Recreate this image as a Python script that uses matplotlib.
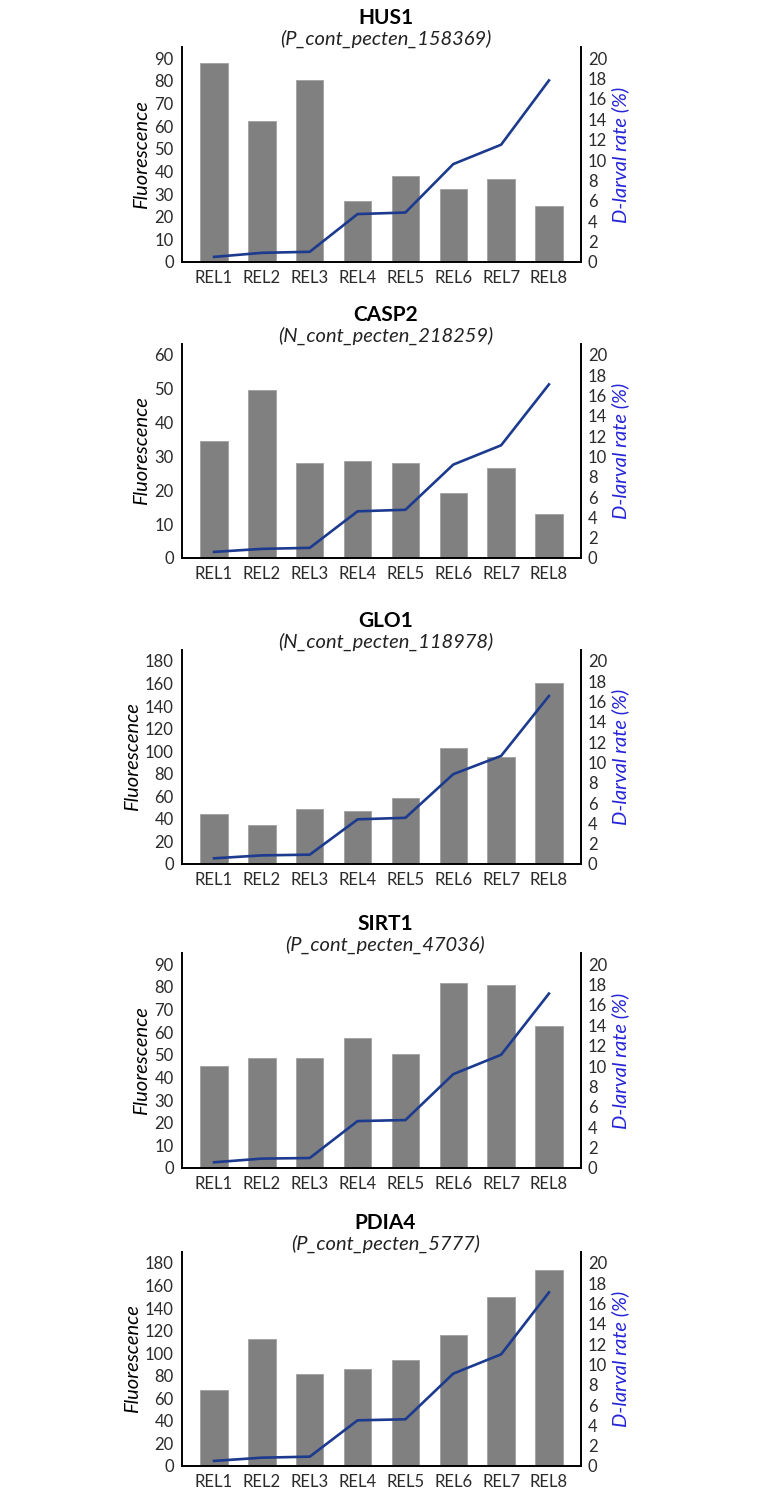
import numpy as np
import matplotlib.pyplot as plt

categories = ["REL1", "REL2", "REL3", "REL4", "REL5", "REL6", "REL7", "REL8"]

genes = ["HUS1", "CASP2", "GLO1", "SIRT1", "PDIA4"]
contigs = ["(P_cont_pecten_158369)", "(N_cont_pecten_218259)",
           "(N_cont_pecten_118978)", "(P_cont_pecten_47036)",
           "(P_cont_pecten_5777)"]

hus1_fluo = [87.8, 62.0, 80.4, 27.0, 37.9, 32.0, 36.7, 24.6]
casp2_fluo = [34.6, 49.5, 28.2, 28.8, 28.2, 19.2, 26.7, 12.9]
glo1_fluo = [44.0, 35.0, 48.7, 47.2, 58.7, 103.0, 95.0, 160.5]
sirt1_fluo = [44.8, 48.5, 48.4, 57.3, 50.5, 81.7, 80.8, 62.6]
pdia4_fluo = [67.3, 113.0, 82.0, 85.6, 94.4, 116.3, 150.0, 174.0]

hus1_rate = [0.5, 0.9, 1.0, 4.7, 4.85, 9.6, 11.5, 17.8]
casp2_rate = [0.6, 0.9, 1.0, 4.6, 4.75, 9.2, 11.1, 17.1]
glo1_rate = [0.56, 0.85, 0.92, 4.4, 4.55, 8.85, 10.65, 16.55]
sirt1_rate = [0.56, 0.92, 0.98, 4.6, 4.7, 9.2, 11.1, 17.1]
pdia4_rate = [0.5, 0.82, 0.92, 4.5, 4.6, 9.1, 11.0, 17.1]

fluo = [hus1_fluo, casp2_fluo, glo1_fluo, sirt1_fluo, pdia4_fluo]
rates = [hus1_rate, casp2_rate, glo1_rate, sirt1_rate, pdia4_rate]
left_max = [90, 60, 180, 90, 180]
left_step = [10, 10, 20, 10, 20]

# pixel rows of each panel (top, bottom)
rows = [(47, 262), (344, 558), (650, 864), (953, 1168), (1252, 1466)]

W, H = 766, 1505
plt.rcParams['font.family'] = ['Lato', 'DejaVu Sans']

fig = plt.figure(figsize=(W / 100, H / 100), dpi=100)
x = np.arange(len(categories))

for i in range(5):
    top, bot = rows[i]
    ax = fig.add_axes([182 / W, 1 - bot / H, (581 - 182) / W, (bot - top) / H])
    ax.bar(x, fluo[i], width=0.57, color="#808080", edgecolor="#a0a0a0", linewidth=0.6, zorder=2)
    ax.set_xlim(-0.67, 7.67)
    ax.set_ylim(0, left_max[i] * 1.054)
    ax.set_yticks(np.arange(0, left_max[i] + 1, left_step[i]))
    ax.set_xticks(x)
    ax.set_xticklabels(categories)
    ax.tick_params(axis='both', length=0, labelsize=12, colors="#2a2a2a")
    ax.tick_params(axis='x', pad=6)
    ax.tick_params(axis='y', pad=6)
    for s in ["left", "bottom"]:
        ax.spines[s].set_linewidth(1.4)
    ax.spines["top"].set_visible(False)
    ax.spines["right"].set_visible(False)
    ax.set_ylabel("Fluorescence", fontsize=14.5, style="italic", labelpad=3)

    ax2 = ax.twinx()
    ax2.plot(x, rates[i], color="#1c3a8e", linewidth=1.9, zorder=3)
    ax2.set_ylim(0, 20 * 1.054)
    ax2.set_yticks(np.arange(0, 21, 2))
    ax2.tick_params(axis='y', length=0, labelsize=12, pad=5, colors="#2a2a2a")
    ax2.spines["right"].set_linewidth(1.4)
    ax2.spines["top"].set_visible(False)
    ax2.spines["left"].set_visible(False)
    ax2.spines["bottom"].set_visible(False)
    ax2.set_ylabel("D-larval rate (%)", fontsize=14.5, style="italic", color="#2424d8", labelpad=3)

    ax.annotate(genes[i], xy=(0.51, 1), xycoords="axes fraction", xytext=(0, 29),
                textcoords="offset pixels", ha="center", va="center",
                fontsize=15, fontweight="bold")
    ax.annotate(contigs[i], xy=(0.51, 1), xycoords="axes fraction", xytext=(0, 8),
                textcoords="offset pixels", ha="center", va="center",
                fontsize=14.5, style="italic", color="#222222")

fig.savefig("out.png", dpi=100)
